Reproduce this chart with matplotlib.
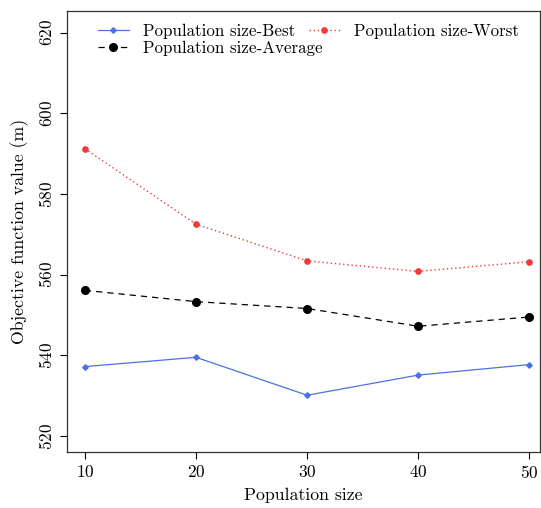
import matplotlib
matplotlib.use("Agg")
import matplotlib.pyplot as plt

plt.rcParams["font.family"] = "serif"
plt.rcParams["font.serif"] = ["cmr10", "DejaVu Serif"]
plt.rcParams["axes.formatter.use_mathtext"] = True
plt.rcParams["mathtext.fontset"] = "cm"

pop_sizes = [10, 20, 30, 40, 50]
best = [537.2, 539.5, 530.1, 535.1, 537.7]
worst = [591.2, 572.5, 563.4, 560.8, 563.2]
average = [556.1, 553.3, 551.6, 547.2, 549.5]


def main() -> None:
    fig = plt.figure(figsize=(5.41, 5.08), dpi=100)
    ax = fig.add_axes([0.123, 0.110, 0.876, 0.868])

    h_best, = ax.plot(pop_sizes, best, color="#4A72E0", lw=0.9, ls="-",
                      marker="D", ms=2.8, label="Population size-Best")
    h_worst, = ax.plot(pop_sizes, worst, color="#F03A3A", lw=1.0,
                       ls=(0, (1, 2)), marker="o", ms=3.8,
                       label="Population size-Worst")
    h_avg, = ax.plot(pop_sizes, average, color="black", lw=0.9,
                     ls=(0, (5, 4)), marker="o", ms=5.5,
                     label="Population size-Average")

    ax.set_xlim(8.35, 51.0)
    ax.set_ylim(516.0, 625.3)
    ax.set_xticks(pop_sizes)
    ax.set_yticks([520, 540, 560, 580, 600, 620])
    ax.tick_params(direction="out", length=5, width=0.8, labelsize=12.5)
    for lbl in ax.get_yticklabels():
        lbl.set_rotation(90)
        lbl.set_va("center")

    ax.set_xlabel("Population size", fontsize=12.8, labelpad=5)
    ax.set_ylabel("Objective function value (m)", fontsize=12.8, labelpad=6)

    for spine in ax.spines.values():
        spine.set_linewidth(0.9)
        spine.set_color("#333333")

    # two legend blocks so the right column can sit close to the left one
    leg_kw = dict(frameon=False, fontsize=12.2, loc="upper left",
                  handlelength=1.8, handletextpad=0.85, labelspacing=0.1,
                  borderpad=0, borderaxespad=0)
    leg1 = ax.legend([h_best, h_avg], [h_best.get_label(), h_avg.get_label()],
                     bbox_to_anchor=(0.0665, 0.971), **leg_kw)
    ax.add_artist(leg1)
    ax.legend([h_worst], [h_worst.get_label()],
              bbox_to_anchor=(0.512, 0.971), **leg_kw)

    fig.savefig("out.png", dpi=100)


if __name__ == "__main__":
    main()
